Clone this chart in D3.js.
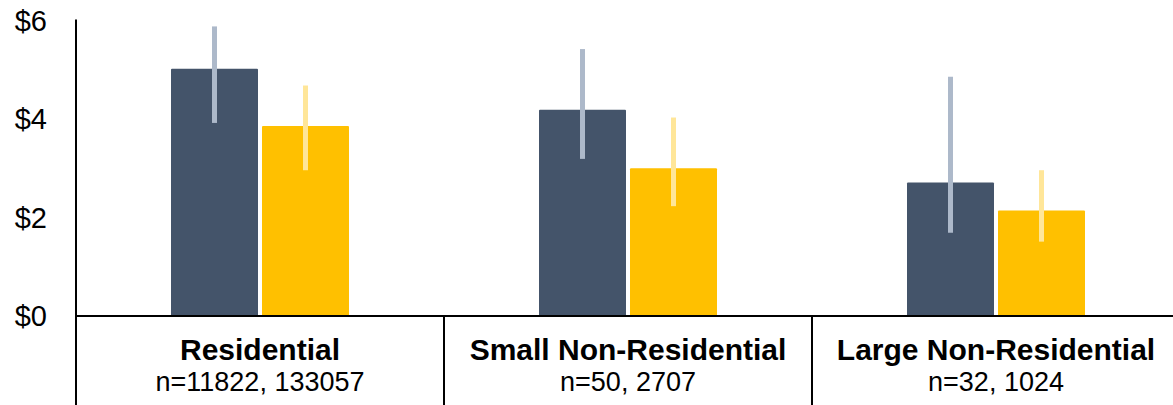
<!DOCTYPE html>
<html>
<head>
<meta charset="utf-8">
<script src="https://cdn.jsdelivr.net/npm/d3@7"></script>
<style>
  html, body { margin: 0; padding: 0; background: #fff; }
  svg { display: block; font-family: "Liberation Sans", Arial, sans-serif; }
</style>
</head>
<body>
<svg id="chart" width="1173" height="405"></svg>
<script>
// Categories and their sample-size captions
const categories = ["Residential", "Small Non-Residential", "Large Non-Residential"];
const sampleSizes = ["n=11822, 133057", "n=50, 2707", "n=32, 1024"];

// Two series: mean value with lower / upper error bounds
const series = ["A", "B"];
const valuesA = [5.02, 4.19, 2.71];
const lowA    = [3.92, 3.19, 1.69];
const highA   = [5.88, 5.42, 4.86];
const valuesB = [3.86, 3.00, 2.14];
const lowB    = [2.96, 2.23, 1.51];
const highB   = [4.68, 4.03, 2.96];

const yTicks = [0, 2, 4, 6];
const yTickLabels = ["$0", "$2", "$4", "$6"];

const barColors = { A: "#44546A", B: "#FFC000" };
const errColors = { A: "#ADB9CA", B: "#FFE699" };

const rows = categories.map((c, i) => ({
  cat: c,
  n: sampleSizes[i],
  bars: [
    { s: "A", v: valuesA[i], lo: lowA[i], hi: highA[i] },
    { s: "B", v: valuesB[i], lo: lowB[i], hi: highB[i] }
  ]
}));

const svg = d3.select("#chart");
const left = 76, right = 1180, zeroY = 316, topY = 20.5;

const x = d3.scaleBand().domain(categories).range([left, right]).padding(0);
const xs = d3.scaleBand().domain(series).range([0, x.bandwidth()])
  .paddingInner(0.044).paddingOuter(1.044);
const y = d3.scaleLinear().domain([0, 6]).range([zeroY, topY]);

// Bars
const groups = svg.append("g").selectAll("g").data(rows).join("g")
  .attr("transform", d => `translate(${x(d.cat)},0)`);

groups.selectAll("rect").data(d => d.bars).join("rect")
  .attr("x", d => xs(d.s))
  .attr("y", d => y(d.v))
  .attr("width", xs.bandwidth())
  .attr("height", d => y(0) - y(d.v))
  .attr("rx", 1)
  .attr("fill", d => barColors[d.s]);

// Error bars
groups.selectAll("line.err").data(d => d.bars).join("line")
  .attr("class", "err")
  .attr("x1", d => xs(d.s) + xs.bandwidth() / 2)
  .attr("x2", d => xs(d.s) + xs.bandwidth() / 2)
  .attr("y1", d => y(d.hi))
  .attr("y2", d => y(d.lo))
  .attr("stroke", d => errColors[d.s])
  .attr("stroke-width", 5);

// Y axis (labels only, plus the vertical rule)
const yAxis = d3.axisLeft(y).tickValues(yTicks)
  .tickFormat((d, i) => yTickLabels[i]).tickSize(0).tickPadding(29);
const gy = svg.append("g").attr("transform", `translate(${left},0)`).call(yAxis);
gy.select(".domain").remove();
gy.selectAll("text")
  .attr("font-size", 29)
  .attr("font-family", "'Liberation Sans', Arial, sans-serif")
  .attr("fill", "#000")
  .attr("dy", "0.33em");

svg.append("line")
  .attr("x1", left).attr("x2", left)
  .attr("y1", topY - 1).attr("y2", 405)
  .attr("stroke", "#000").attr("stroke-width", 2);

// Baseline
svg.append("line")
  .attr("x1", left).attr("x2", 1173)
  .attr("y1", y(0)).attr("y2", y(0))
  .attr("stroke", "#000").attr("stroke-width", 2);

// Category separators below the baseline
svg.append("g").selectAll("line").data(categories.slice(1)).join("line")
  .attr("x1", d => x(d)).attr("x2", d => x(d))
  .attr("y1", y(0)).attr("y2", 405)
  .attr("stroke", "#000").attr("stroke-width", 2);

// Category labels
const labels = svg.append("g").selectAll("g").data(rows).join("g")
  .attr("transform", d => `translate(${x(d.cat) + x.bandwidth() / 2},0)`);
labels.append("text")
  .attr("y", 360)
  .attr("text-anchor", "middle")
  .attr("font-size", 30)
  .attr("font-weight", "bold")
  .attr("fill", "#000")
  .text(d => d.cat);
labels.append("text")
  .attr("y", 391)
  .attr("text-anchor", "middle")
  .attr("font-size", 27)
  .attr("fill", "#000")
  .text(d => d.n);
</script>
</body>
</html>
